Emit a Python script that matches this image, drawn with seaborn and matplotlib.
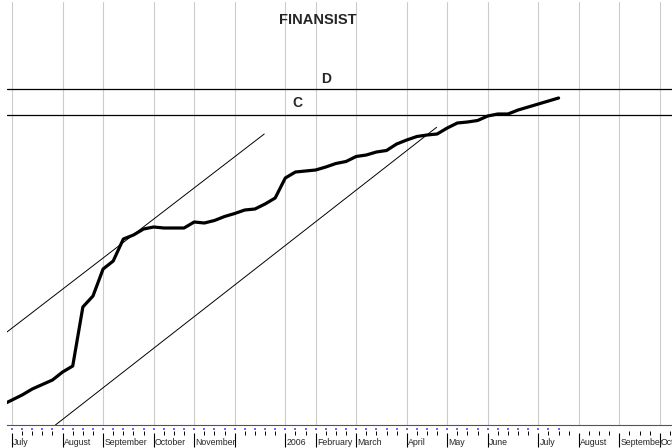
import numpy as np
import pandas as pd
import matplotlib
matplotlib.use("Agg")
import matplotlib.pyplot as plt
import matplotlib.transforms as mtransforms
import seaborn as sns

# weekly closing values (week index, starting first week of July 2005)
weeks = list(range(-1, 55))
close = [2.0, 2.5, 3.0, 3.6, 4.05, 4.5, 5.3, 5.9, 11.8, 12.9, 15.6,
         16.4, 18.6, 19.0, 19.6, 19.8, 19.7, 19.7, 19.7, 20.3, 20.2,
         20.45, 20.85, 21.15, 21.5, 21.6, 22.1, 22.7, 24.7, 25.3, 25.4,
         25.5, 25.8, 26.15, 26.35, 26.85, 27.0, 27.3, 27.45, 28.1, 28.5,
         28.85, 29.0, 29.1, 29.7, 30.2, 30.3, 30.45, 30.9, 31.1, 31.1,
         31.5, 31.8, 32.1, 32.4, 32.7]

# month start weeks and their labels
month_weeks = [0, 5, 9, 14, 18, 22, 27, 30, 34, 39, 43, 47, 52, 56, 60, 64]
month_labels = ["July", "August", "September", "October", "November", "",
                "2006", "February", "March", "April", "May", "June",
                "July", "August", "September", "October"]
all_weeks = list(range(0, 66))

# channel lines (start week, start value, end week, end value)
upper_channel = [-0.5, 9.3, 24.92, 29.1]
lower_channel = [4.29, 0.0, 41.95, 29.77]

# resistance levels
levels = {"D": 33.6, "C": 31.0}
level_label_pos = {"D": (31.0, 34.6), "C": (28.15, 32.2)}

df = pd.DataFrame({"week": weeks, "close": close})

sns.set_theme(style="white")
plt.rcParams["font.family"] = ["Liberation Sans", "DejaVu Sans"]

fig = plt.figure(figsize=(6.72, 4.48), dpi=100)
ax = fig.add_axes([6.94 / 672, 23 / 448, (675 - 6.94) / 672, 423 / 448])
ax.set_xlim(-0.5, 65.5)
ax.set_ylim(0, 42.3)

# vertical month gridlines
for w in month_weeks:
    ax.axvline(w, color="#cccccc", lw=0.8, zorder=0)

# levels
for name, val in levels.items():
    ax.axhline(val, color="black", lw=0.9)
    lx, ly = level_label_pos[name]
    ax.text(lx, ly, name, ha="center", va="center", fontsize=10,
            fontweight="bold")

# channel lines
ax.plot(upper_channel[0::2], upper_channel[1::2], color="black", lw=0.7)
ax.plot(lower_channel[0::2], lower_channel[1::2], color="black", lw=0.7)

# price line
sns.lineplot(data=df, x="week", y="close", ax=ax, color="black", lw=2.3)

ax.set_xlabel("")
ax.set_ylabel("")
ax.set_xticks([])
ax.set_yticks([])
for s in ["left", "top", "right"]:
    ax.spines[s].set_visible(False)
ax.spines["bottom"].set_color("#555555")
ax.spines["bottom"].set_linewidth(0.8)

# custom axis marks below the axis
trans = mtransforms.blended_transform_factory(ax.transData, ax.transAxes)
h = 423.0
data_weeks = [w for w in weeks if w >= 0]
ax.plot(data_weeks, [-4 / h] * len(data_weeks), transform=trans, ls="",
        marker="s", ms=1.5, mew=0, color="#6b6bf5", clip_on=False)
minor = [w for w in all_weeks if w not in month_weeks]
ax.plot(minor, [-8 / h] * len(minor), transform=trans, ls="",
        marker="|", ms=2.5, mew=0.7, color="black", clip_on=False)
ax.plot(month_weeks, [-15 / h] * len(month_weeks), transform=trans, ls="",
        marker="|", ms=10, mew=0.8, color="black", clip_on=False)
for w, lab in zip(month_weeks, month_labels):
    ax.text(w + 0.12, -19.5 / h, lab, transform=trans, ha="left",
            va="baseline", fontsize=6.3, clip_on=False)

fig.text(318 / 672, 1 - 20 / 448, "FINANSIST", ha="center", va="center",
         fontsize=10.5, fontweight="bold")

fig.savefig("out.png", dpi=100)
